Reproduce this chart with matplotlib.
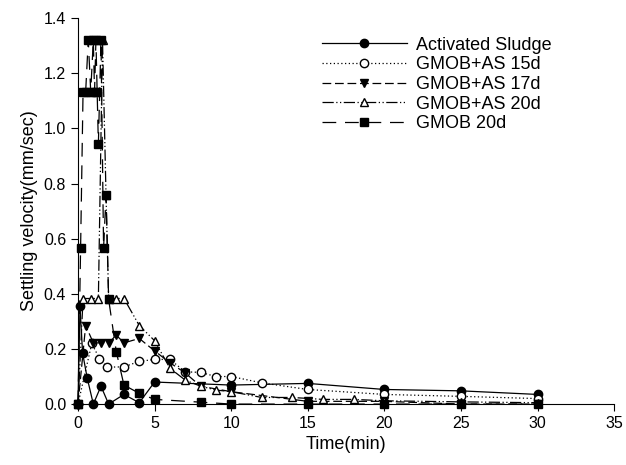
import matplotlib
matplotlib.use("Agg")
import matplotlib.pyplot as plt

plt.rcParams['font.family'] = ['Liberation Sans', 'DejaVu Sans']

# Activated Sludge
t_as = [0, 0.13, 0.3, 0.6, 1, 1.5, 2, 3, 4, 5, 10, 15, 20, 25, 30]
v_as = [0, 0.355, 0.185, 0.095, 0.0, 0.065, 0.0, 0.035, 0.005, 0.08, 0.069, 0.075, 0.053, 0.048, 0.035]

# GMOB+AS 15d
t_15 = [0, 0.9, 1.4, 1.9, 3, 4, 5, 6, 7, 8, 9, 10, 12, 15, 20, 25, 30]
v_15 = [0, 0.22, 0.165, 0.134, 0.135, 0.155, 0.162, 0.162, 0.117, 0.115, 0.1, 0.1, 0.077, 0.053, 0.035, 0.028, 0.02]

# GMOB+AS 17d
t_17 = [0, 0.5, 1, 1.5, 2, 2.5, 3, 4, 5, 6, 7, 8, 10, 15, 20, 25, 30]
v_17 = [0, 0.285, 0.222, 0.222, 0.222, 0.25, 0.222, 0.238, 0.193, 0.15, 0.113, 0.065, 0.045, 0.01, 0.01, 0.0, 0.0]

# GMOB+AS 20d
t_20 = [0, 0.33, 0.83, 1.33, 1.6, 1.83, 2.0, 2.5, 3, 4, 5, 6, 7, 8, 9, 10, 12, 14, 16, 18, 20, 25, 30]
v_20 = [0, 0.383, 0.383, 0.383, 1.32, 0.757, 0.383, 0.383, 0.383, 0.285, 0.23, 0.13, 0.087, 0.065, 0.051, 0.045,
        0.024, 0.024, 0.017, 0.017, 0.012, 0.008, 0.005]

# GMOB 20d
t_g = [0, 0.17, 0.33, 0.5, 0.67, 0.83, 1.0, 1.08, 1.17, 1.25, 1.33, 1.5, 1.67, 1.83, 2.0, 2.5, 3, 4, 5, 8,
       10, 15, 20, 25, 30]
v_g = [0, 0.567, 1.133, 1.133, 1.32, 1.133, 1.32, 1.133, 1.32, 1.133, 0.943, 1.32, 0.567, 0.757, 0.38, 0.19,
       0.069, 0.039, 0.017, 0.007, 0, 0, 0, 0, 0]

fig = plt.figure(figsize=(6.26, 4.65), dpi=100)
ax = fig.add_axes([0.1246, 0.131, 0.8564, 0.830])

kw = dict(color='black', lw=0.9, ms=6, clip_on=False)
ax.plot(t_as, v_as, '-', marker='o', mfc='black', label='Activated Sludge', **kw)
ax.plot(t_15, v_15, linestyle=(0, (1, 2)), marker='o', mfc='white', label='GMOB+AS 15d', **kw)
ax.plot(t_17, v_17, linestyle=(0, (7, 3)), marker='v', mfc='black', label='GMOB+AS 17d', **kw)
ax.plot(t_20, v_20, linestyle=(0, (9, 2, 1, 2, 1, 2)), marker='^', mfc='white', label='GMOB+AS 20d', **kw)
ax.plot(t_g, v_g, linestyle=(0, (11, 7)), marker='s', mfc='black', label='GMOB 20d', **kw)

ax.set_xlim(0, 35)
ax.set_ylim(0, 1.4)
ax.set_xticks([0, 5, 10, 15, 20, 25, 30, 35])
ax.set_yticks([0.0, 0.2, 0.4, 0.6, 0.8, 1.0, 1.2, 1.4])
ax.set_yticklabels(['0.0', '0.2', '0.4', '0.6', '0.8', '1.0', '1.2', '1.4'])
ax.spines['top'].set_visible(False)
ax.spines['right'].set_visible(False)
ax.tick_params(direction='out', length=5, labelsize=11.5)
ax.set_xlabel('Time(min)', fontsize=13)
ax.set_ylabel('Settling velocity(mm/sec)', fontsize=13)

ax.legend(loc='upper left', bbox_to_anchor=(0.455, 0.952), frameon=False, fontsize=13,
          handlelength=4.7, labelspacing=0.15, handletextpad=0.5, borderpad=0, borderaxespad=0)

fig.savefig('out.png', dpi=100)
